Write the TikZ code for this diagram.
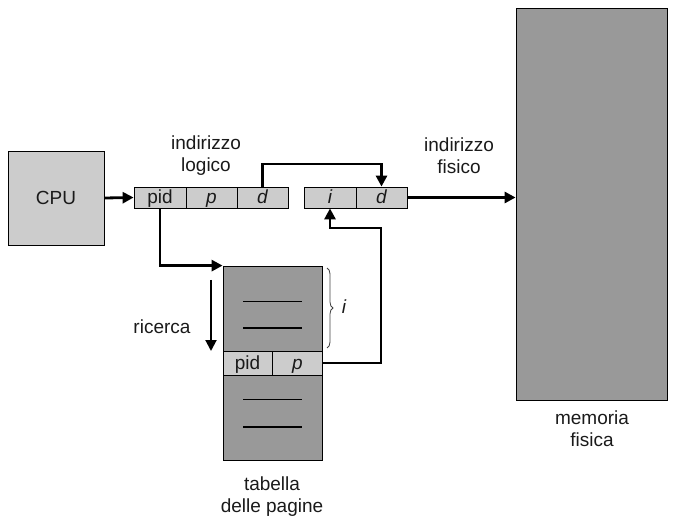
\documentclass[tikz,border=0pt]{standalone}
\usepackage{fontspec}
\setmainfont{Liberation Sans}
\usetikzlibrary{arrows.meta,decorations.pathreplacing}
\definecolor{lgray}{HTML}{CCCCCC}
\definecolor{dgray}{HTML}{999999}
\definecolor{txt}{HTML}{1A1A1A}
\begin{document}
\begin{tikzpicture}[x=1pt,y=-1pt,
  every node/.style={font=\fontsize{19}{22}\selectfont, text=txt},
  cell/.style={draw=black, fill=lgray, line width=0.8pt, minimum height=21pt, inner sep=0pt, text height=14pt, text depth=1.5pt},
  bigbox/.style={draw=black, line width=0.8pt, inner sep=0pt},
  conn/.style={line width=2.8pt, line join=miter},
  tip/.style={-{Triangle[length=11pt,width=11pt]}},
  lbl/.style={align=center, inner sep=0pt}]
\useasboundingbox (0,0) rectangle (674,526);
% CPU
\node[bigbox, fill=lgray, minimum width=96pt, minimum height=94pt] (cpu) at (56,198) {CPU};
% memory
\node[bigbox, fill=dgray, minimum width=151pt, minimum height=392pt] (mem) at (591.5,204) {};
% logical address
\node[cell, minimum width=52pt] (pid) at (160,197.5) {pid};
\node[cell, minimum width=51pt] (p) at (211.5,197.5) {\itshape p};
\node[cell, minimum width=51pt] (d) at (262.5,197.5) {\itshape d};
% physical address
\node[cell, minimum width=52pt] (i) at (330,197.5) {\itshape i};
\node[cell, minimum width=51pt] (d2) at (381.5,197.5) {\itshape d};
% page table
\node[bigbox, fill=dgray, minimum width=99pt, minimum height=85pt] (ttop) at (272.5,308.5) {};
\node[cell, minimum width=49pt, minimum height=24pt] (tpid) at (247.5,363) {pid};
\node[cell, minimum width=50pt, minimum height=24pt] (tp) at (297.5,363) {\itshape p};
\node[bigbox, fill=dgray, minimum width=99pt, minimum height=85pt] (tbot) at (272.5,417.5) {};
\draw[line width=0.8pt] (243,301) -- (302,301);
\draw[line width=2pt] (243,328) -- (302,328);
\draw[line width=0.8pt] (243,399) -- (302,399);
\draw[line width=2pt] (243,427) -- (302,427);
% labels
\node[lbl] (ll) at (206,156) {indirizzo\\logico};
\node[lbl] (lf) at (459,156) {indirizzo\\fisico};
\node[lbl] (lm) at (592,429) {memoria\\fisica};
\node[lbl] (lt) at (272,497) {tabella\\delle pagine};
\node[lbl] (lr) at (162,327) {ricerca};
\node[lbl] (li) at (344,307) {\itshape i};
% connectors
\draw[conn, tip] (cpu.east) -- (pid.west);
\draw[conn, tip] (pid.south) |- (ttop.north west);
\draw[conn, tip] (d.north) |- (381.5,164) -- (d2.north);
\draw[conn, tip] (tp.east) -- (381,363) -- (381,228) -| (i.south);
\draw[conn, tip] (d2.east) -- (mem.west |- d2.east);
\coordinate (rs) at (211,280);
\coordinate (re) at (211,351);
\draw[line width=2pt, tip] (rs) -- (re);
\coordinate (bs) at (327,268);
\coordinate (be) at (327,348);
\draw[line width=0.8pt, draw=black!75, decorate, decoration={brace, amplitude=6pt}] (bs) -- (be);
\end{tikzpicture}
\end{document}
